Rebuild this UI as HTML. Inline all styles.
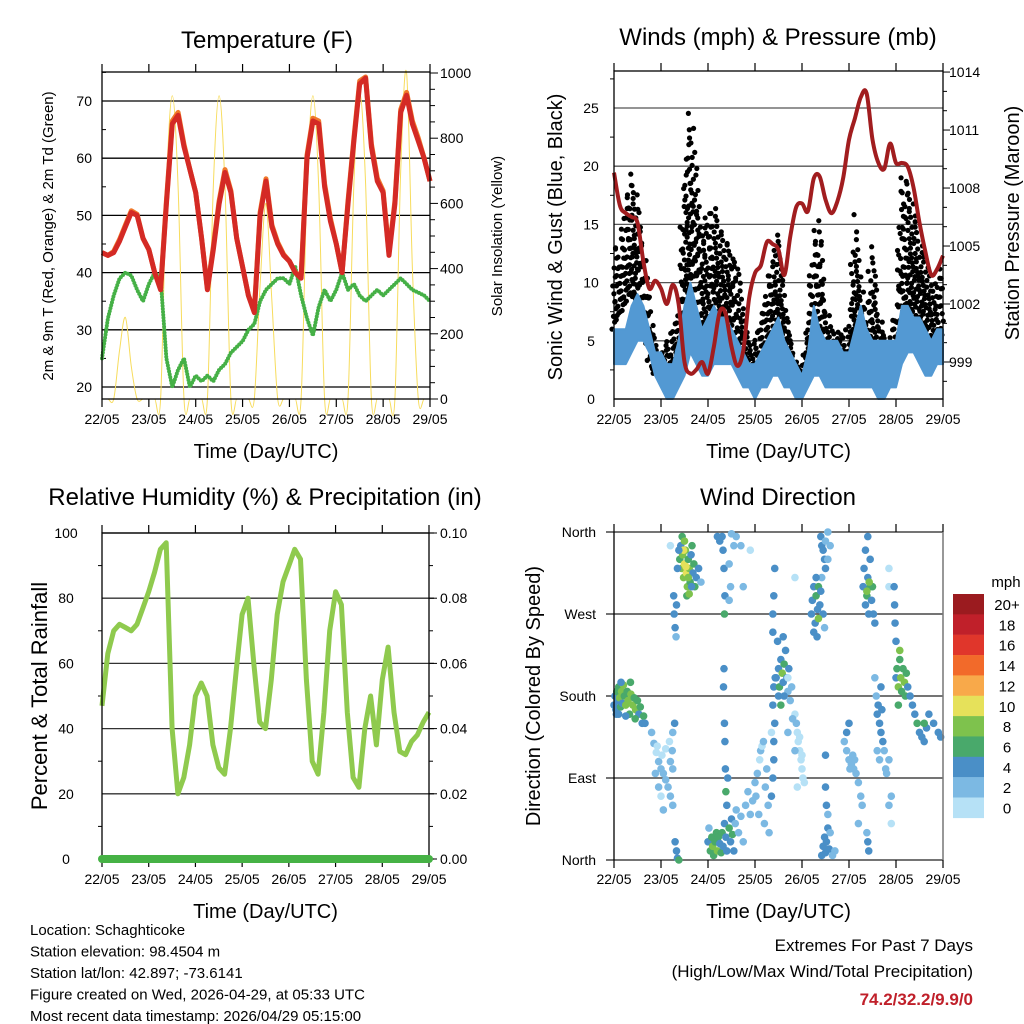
<!DOCTYPE html>
<html><head><meta charset="utf-8"><style>
body{margin:0;background:#fff;}
svg{display:block;font-family:"Liberation Sans",Arial,sans-serif;}
</style></head><body>
<svg id="s" width="1024" height="1024" viewBox="0 0 1024 1024" xmlns="http://www.w3.org/2000/svg">
<rect width="1024" height="1024" fill="#fff"/>
</svg>
<script>
// ---------- DATA ----------
const dayLabels=["22/05","23/05","24/05","25/05","26/05","27/05","28/05","29/05"];
// 3-hourly (0.125 day steps), 57 values
const temp2m=[43.5,43,43.5,45.5,48,50.5,50,46, 44,40,37,52,66,67.5,62,58, 54,46,37,44,52,57.5,54,46, 41,36,33,50,56,48,45,43, 42,40,39,60,66.5,66,55,49, 45,40,52,63,73,74,62,56, 54,43,52,68,71,66,63,60, 56];
const temp9m=[43.5,43,43.7,45.8,48.3,50.8,50.2,46, 44,40,37.3,52.5,66.5,68,62.4,58, 54,46,37.2,44.5,52.5,58,54.3,46, 41,36,33.3,50.5,56.4,48.3,45.3,43.2, 42,40,39.4,60.5,67,66.5,55.5,49.5, 45,40,52.5,63.5,73.5,74.2,62.5,56.5, 54.3,43.5,52.5,68.5,71.5,66.5,63.5,60, 56];
const dew2m=[25,32,36,39,40,39.5,37,35, 38,40,39,25,20,23,25,20, 22,21,22,21,23,24,26,27, 28,30,31,35,37,38,39,39, 38,41,36,32,29,34,37,35, 37,40,37,38,36,35,36,37, 36,37,38,39,38,37,36.5,36, 35];
const solar=[0,0,0,150,250,100,0,0, 0,0,0,650,930,650,0,0, 0,0,0,650,930,650,0,0, 0,0,0,350,600,300,0,0, 0,0,0,650,930,650,0,0, 0,0,0,660,940,660,0,0, 0,0,0,700,1000,400,0,0, 0];
const pressure=[1008.8,1007.1,1006.7,1006.5,1006.2,1004.2,1002.8,1003.2, 1002.8,1002.0,1003.0,1002.0,999.0,998.4,998.6,999.0, 998.4,999.8,1001.6,1001.5,999.8,998.8,999.6,1002.3, 1003.6,1004.0,1005.2,1005.1,1004.8,1003.5,1005.5,1007.0, 1007.2,1006.8,1008.5,1008.6,1007.4,1006.7,1007.3,1008.5, 1010.5,1011.6,1012.7,1012.9,1010.5,1009.3,1009.0,1010.3, 1009.3,1009.3,1009.1,1008.0,1006.2,1004.7,1003.5,1003.8, 1004.5];
const gustLow=[6,7,8,9,8,6,3,2, 2,2,3,4,8,10,8,6, 6,7,6,5,5,3,2,2, 2,3,4,5,4,3,2,1, 1,3,4,5,3,3,3,2, 3,5,4,2,3,3,2,2, 3,7,8,7,6,5,4,4, 5];
const gustHigh=[14,12,17,20,18,13,9,5, 4,5,6,8,20,26,20,15, 16,17,15,14,13,12,8,5, 5,7,10,12,16,9,6,3, 3,8,13,17,8,6,6,6, 6,16,11,6,15,8,6,5, 8,20,19,17,14,12,10,10, 12];
const windLow=[3,3,3,4,5,5,4,2, 1,0,0,1,2,4,3,2, 2,3,3,3,3,2,1,1, 0,1,1,2,2,1,1,0, 0,1,2,2,1,1,1,1, 1,1,1,1,1,0,0,1, 1,3,4,4,3,2,2,3, 3];
const windHigh=[6,6,6,8,9,8,6,4, 4,3,3,5,8,10,8,6, 7,8,7,7,6,5,4,3, 3,4,5,6,7,5,4,3, 2,4,8,6,5,5,5,4, 4,6,8,6,5,5,5,5, 5,8,8,7,7,6,5,6, 6];
const rh=[47,63,70,72,71,70,72,77, 82,88,95,97,40,20,25,35, 50,54,50,35,28,26,40,58, 75,80,60,42,40,55,75,85, 90,95,92,55,30,26,45,70, 82,78,45,25,22,40,50,35, 55,65,45,33,32,36,38,42, 45];
const precip=[0,0,0,0,0,0,0,0];
// wind direction scatter
const dirTime=[0,0.02,0.04,0.06,0.08,0.10,0.12,0.14,0.16,0.18,0.20,0.22,0.25,0.28,0.30,0.33,0.36,0.40,0.43,0.46,0.50,0.53,0.56,0.60,0.63,0.66,0.10,0.15,0.35,0.45,0.05,0.25,
0.80,0.85,0.9,0.95,1.0,1.05,1.1,1.15,1.2,1.25,0.92,1.02,1.1,1.2,1.25,0.88,0.95,1.0,1.05,1.18,1.24,
1.28,1.30,1.32,1.33,1.27,1.25,1.29,1.3,1.33,1.35,1.38,
1.40,1.42,1.44,1.46,1.48,1.50,1.52,1.54,1.56,1.58,1.60,1.62,1.64,1.66,1.68,1.70,1.72,1.75,1.80,1.85,1.45,1.50,1.55,1.60,1.48,1.53,1.58,1.35,1.38,1.65,1.2,
2.00,2.02,2.05,2.08,2.10,2.12,2.15,2.18,2.20,2.22,2.25,2.28,2.30,2.32,2.35,2.38,2.40,2.45,2.48,2.50,2.52,2.55,2.58,2.60,2.65,2.70,2.75,2.80,2.85,2.90,2.95,2.4,2.38,2.42,
2.30,2.32,2.34,2.36,2.35,2.34,2.33,2.36,2.35,2.37,2.2,2.25,2.5,2.6,2.7,2.45,2.48,2.45,2.55,2.75,2.9,
3.00,3.05,3.10,3.12,3.15,3.18,3.25,3.22,3.28,3.2,3.3,3.35,3.02,3.08,
3.38,3.40,3.40,3.42,3.38,3.40,3.43,3.38,3.38,3.40,3.42,3.35,
3.45,3.50,3.52,3.55,3.58,3.60,3.62,3.65,3.68,3.70,3.72,3.75,3.78,3.5,3.55,3.62,3.48,3.6,
3.85,3.88,3.90,3.92,3.95,3.98,4.00,4.02,4.05,3.95,4.0,3.85,3.9,3.8,3.7,3.85,3.7,
4.20,4.22,4.25,4.28,4.30,4.33,4.35,4.38,4.40,4.42,4.45,4.48,4.25,4.3,4.35,4.32,
4.40,4.42,4.45,4.48,4.50,4.55,4.6,4.5,4.55,
4.42,4.45,4.48,4.50,4.52,4.55,4.58,4.60,4.65,4.5,4.52,4.55,4.7,4.5,
4.90,4.95,5.00,5.02,5.05,5.08,5.10,5.12,5.15,5.20,5.25,5.28,5.2,4.95,5.0,
5.30,5.32,5.35,5.38,5.40,5.42,5.45,5.48,5.50,5.52,5.55,5.35,5.40,5.45,5.38,5.43,5.4,5.42,5.38,
5.55,5.58,5.6,5.62,5.65,5.68,5.70,5.72,5.75,5.78,5.6,5.65,5.68,5.8,5.85,5.9,5.85,5.9,5.85,5.85,
6.00,6.02,6.05,6.08,6.10,6.12,6.15,6.18,6.20,6.22,6.25,6.08,6.05,6.0,5.98,5.97,5.96,
6.30,6.35,6.40,6.45,6.50,6.55,6.60,6.65,6.7,6.8,6.9,6.95,6.6];
const dirDeg=[170,180,165,185,175,190,178,168,185,172,192,180,170,185,175,160,182,170,178,165,175,160,168,150,158,150,160,195,195,155,160,158,
140,128,118,108,100,95,88,80,70,60,125,115,122,108,100,95,80,70,55,130,120,
270,255,245,280,290,140,150,20,10,2,0,
330,345,320,335,310,325,340,315,300,330,320,305,335,345,315,325,300,310,320,305,355,350,290,292,340,322,310,320,340,300,345,
20,35,10,25,15,5,20,30,10,25,18,8,30,15,40,25,10,35,20,45,28,10,40,55,30,48,20,60,75,50,65,60,75,90,
355,340,320,290,270,210,190,130,150,100,355,350,358,355,345,325,300,285,345,300,340,
85,95,110,120,125,130,100,80,60,40,30,140,70,50,
90,110,130,150,170,190,200,250,270,290,320,70,
200,210,190,220,205,195,215,230,200,185,210,175,190,180,170,180,240,245,
160,150,140,130,120,110,100,90,85,135,115,120,80,155,140,310,200,
270,285,300,260,290,275,300,280,295,310,270,255,250,310,265,245,
355,345,340,330,350,360,345,320,330,
5,15,25,8,20,35,12,30,5,80,60,50,10,115,
130,120,110,100,105,115,100,110,95,85,70,60,40,140,150,
300,320,280,290,310,270,300,285,300,270,260,340,355,330,295,305,20,10,30,
200,180,160,170,150,140,165,130,120,100,120,110,190,95,110,70,60,40,320,300,
200,210,190,220,200,185,210,195,180,205,190,230,170,240,260,280,300,
180,170,160,150,140,135,130,145,160,150,140,135,150];
const dirSpd=[4,4,4,6,4,6,8,6,8,4,8,6,8,6,8,6,8,8,6,8,6,4,6,4,6,4,4,4,6,6,4,4,
2,2,0,2,2,2,2,2,2,2,0,0,0,2,2,2,2,0,2,0,2,
4,4,2,4,4,2,4,4,4,4,6,
6,4,8,8,8,10,8,10,8,6,8,6,4,6,4,6,6,4,4,2,6,8,6,8,10,10,8,4,4,4,0,
4,2,6,6,8,6,6,6,8,6,4,6,6,4,4,4,4,6,4,4,6,4,2,2,2,2,2,2,2,2,2,4,6,4,
4,4,4,4,6,4,4,4,4,4,4,4,2,2,2,2,2,2,2,2,0,
2,2,0,2,0,2,2,2,2,2,2,0,2,2,
4,4,4,4,4,4,4,4,4,4,4,4,
4,4,6,4,8,4,6,4,4,2,4,2,2,4,6,4,4,4,
0,2,0,0,0,0,0,0,0,0,0,2,0,2,2,0,0,
4,4,4,4,6,4,6,4,4,2,4,2,4,4,8,4,
4,4,4,4,2,2,2,4,2,
4,4,4,4,4,4,4,2,2,4,4,2,2,4,
2,2,2,2,2,2,2,2,2,2,2,2,2,4,4,
4,4,4,6,4,4,6,4,6,4,4,4,4,4,8,8,4,4,2,
2,2,4,4,4,4,4,4,2,2,2,2,4,2,2,2,2,0,0,0,
4,6,8,6,8,6,6,8,6,6,4,8,6,4,4,4,4,
4,4,4,6,4,4,4,4,4,4,4,4,6];
const cbLabels=["20+","18","16","14","12","10","8","6","4","2","0"];
const cbColors=["#9b1b1f","#c0202a","#e0362b","#f26a2a","#f8a94a","#e6e15a","#7ec24d","#49a96b","#4a8fc7","#7cb9e3","#b6e1f6"];

// ---------- helpers ----------
const NS="http://www.w3.org/2000/svg";
const svg=document.getElementById('s');
function mk(tag,attrs,parent,text){const e=document.createElementNS(NS,tag);for(const k in attrs)e.setAttribute(k,attrs[k]);if(text!==undefined)e.textContent=text;(parent||svg).appendChild(e);return e;}
function txt(x,y,s,size,anchor,extra,parent){const e=mk('text',Object.assign({x:x,y:y,'font-size':size,'text-anchor':anchor||'middle',fill:'#000'},extra||{}),parent,s);return e;}
function smoothPath(pts){let d='M'+pts[0][0].toFixed(1)+','+pts[0][1].toFixed(1);for(let i=0;i<pts.length-1;i++){const p0=pts[i-1]||pts[i],p1=pts[i],p2=pts[i+1],p3=pts[i+2]||p2;const c1=[p1[0]+(p2[0]-p0[0])/6,p1[1]+(p2[1]-p0[1])/6],c2=[p2[0]-(p3[0]-p1[0])/6,p2[1]-(p3[1]-p1[1])/6];d+='C'+c1[0].toFixed(1)+','+c1[1].toFixed(1)+' '+c2[0].toFixed(1)+','+c2[1].toFixed(1)+' '+p2[0].toFixed(1)+','+p2[1].toFixed(1);}return d;}
function linePath(pts){return 'M'+pts.map(p=>p[0].toFixed(1)+','+p[1].toFixed(1)).join('L');}

function xAxis(g,x0,x1,y0,y1,labY,titleY){
  const sx=d=>x0+d*(x1-x0)/7;
  for(let i=0;i<dayLabels.length;i++){
    const x=sx(i);
    mk('line',{x1:x,y1:y0,x2:x,y2:y0-8,stroke:'#000','stroke-width':1.2},g);
    mk('line',{x1:x,y1:y1,x2:x,y2:y1+8,stroke:'#000','stroke-width':1.2},g);
    const t=txt(x,labY,dayLabels[i],14,'middle',{},g);
    
    
  }
  const tt=txt((x0+x1)/2,titleY,'Time (Day/UTC)',20,'middle',{},g);
  
  
  return sx;
}

// ---------- PANEL 1: Temperature ----------
(function(){
  const g=mk('g',{});
  
  
  const x0=102,x1=430,y0=72,y1=399;
  const yT=v=>387-(v-20)*5.72, yS=v=>399-v*0.326;
  const t=txt(267,48,'Temperature (F)',24,'middle',{},g);
  
  
  [20,30,40,50,60,70].forEach(v=>{
    const gl=mk('line',{x1:x0,y1:yT(v),x2:x1,y2:yT(v),stroke:'#000','stroke-width':1.3},g);
    
    
    txt(x0-10,yT(v)+5,String(v),14,'end',{},g);
  });
  [25,35,45,55,65,75].forEach(v=>{ if(yT(v)>y0) mk('line',{x1:x0,y1:yT(v),x2:x0+4,y2:yT(v),stroke:'#000'},g);});
  for(let v=0;v<=1000;v+=50){mk('line',{x1:x1,y1:yS(v),x2:x1+(v%200===0?8:5),y2:yS(v),stroke:'#000'},g);}
  [0,200,400,600,800,1000].forEach(v=>txt(x1+10,yS(v)+5,String(v),14,'start',{},g));
  const sx=xAxis(g,x0,x1,y0,y1,424,458);
  const step=0.125;
  const sol=mk('path',{d:smoothPath(solar.map((v,i)=>[sx(i*step),yS(Math.max(0,v))])),fill:'none',stroke:'#f7dc5c','stroke-width':1},g);
  
  
  const dw=mk('path',{d:linePath(dew2m.map((v,i)=>[sx(i*step),yT(v)])),fill:'none',stroke:'#45b046','stroke-width':4,'stroke-linecap':'round','stroke-linejoin':'round','stroke-dasharray':'0 3'},g);
  
  
  const o=mk('path',{d:linePath(temp9m.map((v,i)=>[sx(i*step),yT(v)])),fill:'none',stroke:'#f0782a','stroke-width':5,'stroke-linejoin':'round'},g);
  
  
  const r=mk('path',{d:linePath(temp2m.map((v,i)=>[sx(i*step),yT(v)])),fill:'none',stroke:'#d42a25','stroke-width':5,'stroke-linejoin':'round'},g);
  
  
  mk('rect',{x:x0,y:y0,width:x1-x0,height:y1-y0,fill:'none',stroke:'#000','stroke-width':1.3},g);
  const yl=txt(0,0,'2m & 9m T (Red, Orange) & 2m Td (Green)',15,'middle',{transform:'translate(53,236) rotate(-90)'},g);
  
  
  const yr=txt(0,0,'Solar Insolation (Yellow)',15,'middle',{transform:'translate(502,236) rotate(-90)'},g);
  
  
})();

// ---------- PANEL 2: Winds & pressure ----------
(function(){
  const g=mk('g',{});
  
  
  const x0=614,x1=943,y0=71,y1=399;
  const yW=v=>399-v*11.64, yP=v=>362-(v-999)*19.33;
  const t=txt(778,45,'Winds (mph) & Pressure (mb)',24,'middle',{},g);
  
  
  [0,5,10,15,20,25].forEach(v=>{
    mk('line',{x1:x0,y1:yW(v),x2:x1,y2:yW(v),stroke:'#555','stroke-width':1.3},g);
    txt(x0-23,yW(v)+5,String(v),14,'middle',{},g);
  });
  for(let v=2.5;v<28;v+=5)mk('line',{x1:x0,y1:yW(v),x2:x0-4,y2:yW(v),stroke:'#000'},g);
  for(let v=998;v<=1014;v++){mk('line',{x1:x1,y1:yP(v),x2:x1+((v-999)%3===0?7:4),y2:yP(v),stroke:'#000'},g);}
  [999,1002,1005,1008,1011,1014].forEach(v=>txt(x1+6,yP(v)+5,String(v),14,'start',{},g));
  const sx=xAxis(g,x0,x1,y0,y1,424,458);
  const step=0.125;
  const gd=mk('g',{},g);
  
  
  const offs=[0,0.37,0.71,0.19,0.53,0.88,0.29,0.64];
  for(let i=0;i<gustLow.length-1;i++){
    for(let k=0;k<5;k++){
      const f=k/5, d=(i+f)*step;
      const lo=gustLow[i]+(gustLow[i+1]-gustLow[i])*f, hi=gustHigh[i]+(gustHigh[i+1]-gustHigh[i])*f;
      const span=hi-lo;
      let j=0;
      for(let u=offs[(i*5+k)%8]*1.1;u<=span;u+=1.1+u*0.12){
        const c=mk('circle',{cx:sx(d)+offs[(j+k)%8]*4-2,cy:yW(lo+u),r:2.6,fill:'#000'},gd);
        
        
        j++;
      }
    }
  }
  const top=windHigh.map((v,i)=>[sx(i*step),yW(v)]), bot=windLow.map((v,i)=>[sx(i*step),yW(v)]).reverse();
  const band=mk('path',{d:linePath(top.concat(bot))+'Z',fill:'#5399d3',stroke:'#5399d3','stroke-width':2,'stroke-linejoin':'round'},g);
  
  
  const p=mk('path',{d:smoothPath(pressure.map((v,i)=>[sx(i*step),yP(v)])),fill:'none',stroke:'#a11d1f','stroke-width':4},g);
  
  
  mk('rect',{x:x0,y:y0,width:x1-x0,height:y1-y0,fill:'none',stroke:'#000','stroke-width':1.3},g);
  const yl=txt(0,0,'Sonic Wind & Gust (Blue, Black)',20,'middle',{transform:'translate(562,237) rotate(-90)'},g);
  
  
  const yr=txt(0,0,'Station Pressure (Maroon)',20,'middle',{transform:'translate(1019,223) rotate(-90)'},g);
  
  
})();

// ---------- PANEL 3: RH ----------
(function(){
  const g=mk('g',{});
  
  
  const x0=102,x1=429,y0=533,y1=859;
  const yR=v=>859-v*3.26, yPr=v=>859-v*3260;
  const t=txt(265,505,'Relative Humidity (%) & Precipitation (in)',24,'middle',{},g);
  
  
  [0,20,40,60,80,100].forEach(v=>{
    mk('line',{x1:x0,y1:yR(v),x2:x1+5,y2:yR(v),stroke:'#333','stroke-width':1.3},g);
    txt(x0-36,yR(v)+5,String(v),14,'middle',{},g);
  });
  for(let v=10;v<100;v+=20)mk('line',{x1:x0,y1:yR(v),x2:x0-4,y2:yR(v),stroke:'#000'},g);
  for(let v=0;v<=10;v++){mk('line',{x1:x1,y1:yPr(v/100),x2:x1+(v%2===0?8:4),y2:yPr(v/100),stroke:'#000'},g);}
  ['0.00','0.02','0.04','0.06','0.08','0.10'].forEach(s=>txt(x1+11,yPr(parseFloat(s))+5,s,14,'start',{},g));
  const sx=xAxis(g,x0,x1,y0,y1,884,918);
  const r=mk('path',{d:linePath(rh.map((v,i)=>[sx(i*0.125),yR(v)])),fill:'none',stroke:'#8fca4e','stroke-width':5,'stroke-linejoin':'round'},g);
  
  
  mk('rect',{x:x0,y:y0,width:x1-x0,height:y1-y0,fill:'none',stroke:'#000','stroke-width':1.3},g);
  const pr=mk('path',{d:linePath(precip.map((v,i)=>[sx(i),yPr(v)])),fill:'none',stroke:'#46b245','stroke-width':8,'stroke-linecap':'round'},g);
  
  
  const yl=txt(0,0,'Percent & Total Rainfall',22,'middle',{transform:'translate(47,696) rotate(-90)'},g);
  
  
})();

// ---------- PANEL 4: Wind direction ----------
(function(){
  const g=mk('g',{});
  
  
  const x0=614,x1=943,y0=532,y1=860;
  const yD=v=>860-v*0.9111;
  const t=txt(778,505,'Wind Direction',24,'middle',{},g);
  
  
  [[0,'North'],[90,'East'],[180,'South'],[270,'West'],[360,'North']].forEach(a=>{
    mk('line',{x1:x0-8,y1:yD(a[0]),x2:x1,y2:yD(a[0]),stroke:'#222','stroke-width':1.3},g);
    txt(x0-18,yD(a[0])+5,a[1],14,'end',{},g);
  });
  const sx=xAxis(g,x0,x1,y0,y1,884,918);
  const pg=mk('g',{},g);
  
  
  for(let i=0;i<dirTime.length;i++){
    const ci=10-Math.min(10,Math.floor(dirSpd[i]/2));
    const c=mk('circle',{cx:sx(dirTime[i]),cy:yD(dirDeg[i]),r:3.8,fill:cbColors[ci]},pg);
    
    
  }
  mk('line',{x1:x0,y1:y0,x2:x0,y2:y1,stroke:'#000','stroke-width':1.3},g);
  mk('line',{x1:x1,y1:y0,x2:x1,y2:y1,stroke:'#777','stroke-width':1.5},g);
  const yl=txt(0,0,'Direction (Colored By Speed)',20,'middle',{transform:'translate(540,696) rotate(-90)'},g);
  
  
  const cb=mk('g',{},g);
  
  
  txt(1006,587,'mph',15,'middle',{},cb);
  for(let i=0;i<cbColors.length;i++){
    const r=mk('rect',{x:953,y:594+i*20.35,width:31,height:20.6,fill:cbColors[i]},cb);
    
    
    txt(1007,610+i*20.35,cbLabels[i],15,'middle',{},cb);
  }
})();

// ---------- footer text ----------
(function(){
  const g=mk('g',{});
  
  
  const lines=["Location: Schaghticoke","Station elevation: 98.4504 m","Station lat/lon: 42.897; -73.6141","Figure created on Wed, 2026-04-29, at 05:33 UTC","Most recent data timestamp: 2026/04/29 05:15:00"];
  lines.forEach((s,i)=>txt(30,935+i*21.5,s,15,'start',{},g));
  const e=mk('g',{});
  
  
  txt(973,951,'Extremes For Past 7 Days',17,'end',{},e);
  txt(973,977,'(High/Low/Max Wind/Total Precipitation)',17,'end',{},e);
  txt(973,1005,'74.2/32.2/9.9/0',17,'end',{fill:'#c0202a','font-weight':'bold'},e);
})();
</script>
</body></html>
